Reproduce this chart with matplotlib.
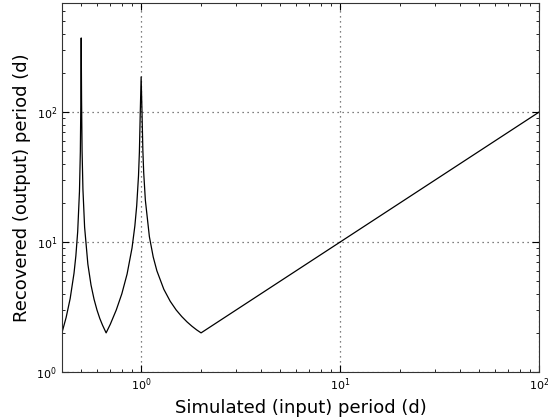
import matplotlib
matplotlib.use("Agg")
import matplotlib.pyplot as plt

# values
sim_period = [0.40, 0.42, 0.44, 0.46, 0.47, 0.48, 0.49, 0.495, 0.498, 0.50,
              0.502, 0.505, 0.51, 0.52, 0.54, 0.56, 0.58, 0.60, 0.62, 0.64, 0.667,
              0.70, 0.75, 0.80, 0.85, 0.90, 0.93, 0.95, 0.97, 0.98, 0.99, 1.00,
              1.01, 1.02, 1.03, 1.05, 1.10, 1.15, 1.20, 1.30, 1.40, 1.50, 1.60,
              1.70, 1.80, 1.90, 2.00, 100.0]
rec_period = [2.0, 2.63, 3.67, 5.75, 7.83, 12.0, 24.5, 49.5, 124.5, 371,
              125.5, 50.5, 25.5, 13.0, 6.75, 4.67, 3.63, 3.0, 2.58, 2.29, 2.0,
              2.33, 3.0, 4.0, 5.67, 9.0, 13.3, 19.0, 32.3, 49.0, 99.0, 186,
              101, 51.0, 34.3, 21.0, 11.0, 7.67, 6.0, 4.33, 3.5, 3.0, 2.67,
              2.43, 2.25, 2.11, 2.0, 100.0]

fig = plt.figure(figsize=(5.48, 4.18), dpi=100)
ax = fig.add_axes([0.113, 0.110, 0.871, 0.883])
ax.plot(sim_period, rec_period, color="black", lw=0.9)
ax.set_xscale("log")
ax.set_yscale("log")
ax.set_xlim(0.4, 100)
ax.set_ylim(1, 690)
ax.grid(True, which="major", linestyle=(0, (1, 3)), color="#555555", lw=0.9)
for s in ax.spines.values():
    s.set_color("#333333")
ax.tick_params(which="both", direction="in", top=True, right=True, labelsize=8)
ax.tick_params(which="major", length=5)
ax.tick_params(which="minor", length=2.5)
ax.set_xlabel("Simulated (input) period (d)", fontsize=13)
ax.set_ylabel("Recovered (output) period (d)", fontsize=13)
fig.savefig("out.png", dpi=100)
